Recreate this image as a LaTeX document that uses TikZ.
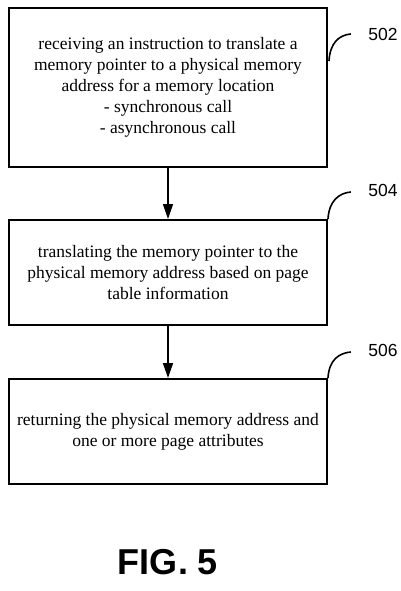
\documentclass[tikz,border=0pt]{standalone}
\usepackage{fontspec}
\setmainfont{Liberation Serif}
\newfontfamily\refsans{Liberation Sans}
\usetikzlibrary{positioning,calc,arrows.meta}

\begin{document}
\begin{tikzpicture}[x=1pt,y=-1pt,
    stepbox/.style={draw,line width=2pt,minimum width=318pt,inner sep=0pt,
      align=center,font=\fontsize{17.5}{21}\selectfont},
    refnum/.style={font=\refsans\fontsize{17.5}{20}\selectfont},
    lead/.style={line width=1.6pt},
    flow/.style={line width=1.6pt,-{Triangle[length=15pt,width=10pt]}}]
                \useasboundingbox (0,0) rectangle (401,591);

                \node[stepbox,minimum height=159pt] (b502) at (168,87.5)
                  {receiving an instruction to translate a\\
                   memory pointer to a physical memory\\
                   address for a memory location\\
                   - synchronous call\\
                   - asynchronous call};
                \node[stepbox,minimum height=105pt] (b504) at (168,272.5)
                  {translating the memory pointer to the\\
                   physical memory address based on page\\
                   table information};
                \node[stepbox,minimum height=105pt] (b506) at (168,431.5)
                  {returning the physical memory address and\\
                   one or more page attributes};

                \draw[flow] (b502) -- (b504);
                \draw[flow] (b504) -- (b506);

                \node[refnum] (n502) at (383,34) {502};
                \node[refnum] (n504) at (383,190) {504};
                \node[refnum] (n506) at (383,350) {506};

                \coordinate (s502) at ($(b502.north east)+(1,54)$);
                \coordinate (e502) at ($(n502.west)+(-14,0)$);
                \coordinate (e504) at ($(n504.west)+(-14,2)$);
                \coordinate (e506) at ($(n506.west)+(-14,2)$);
                \draw[lead] (s502) .. controls +(1,-18) and +(-12,1) .. (e502);
                \draw[lead] (b504.north east) .. controls +(1,-18) and +(-12,1) .. (e504);
                \draw[lead] (b506.north east) .. controls +(1,-18) and +(-12,1) .. (e506);

                \node[font=\refsans\bfseries\fontsize{36}{40}\selectfont] (fig) at (168,562) {FIG. 5};
\end{tikzpicture}
\end{document}
